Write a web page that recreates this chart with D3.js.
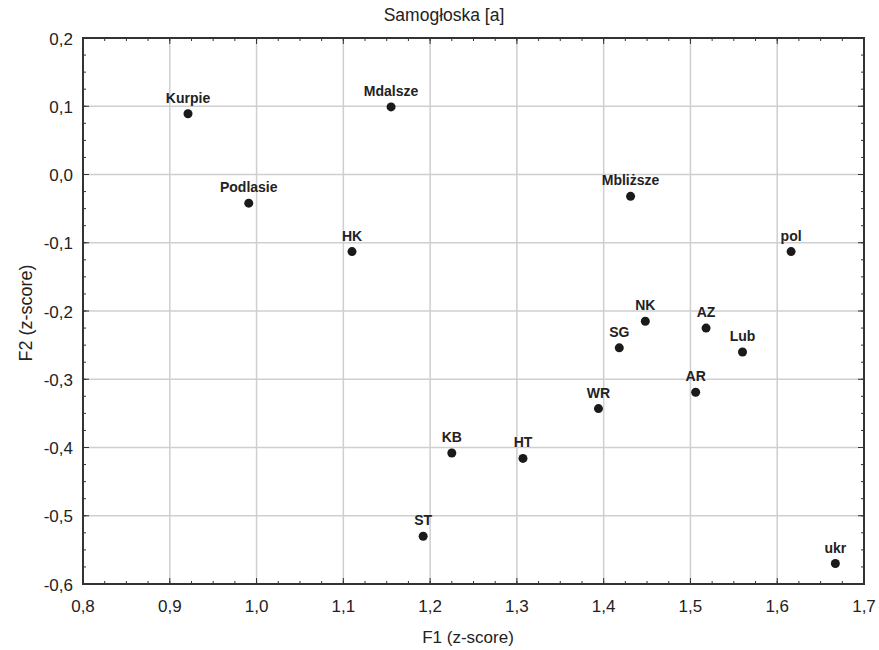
<!doctype html>
<html lang="pl">
<head>
    <meta charset="utf-8">
    <script src="https://d3js.org/d3.v7.min.js"></script>
    <style>
        html, body {
            margin: 0;
            padding: 0;
            background: #fff;
        }

        svg text {
            font-family: "Liberation Sans", Arial, sans-serif;
            fill: #222;
        }
    </style>
</head>
<body>
<svg id="svg" width="879" height="650"></svg>

<script>
    // values
    var labels = ["Kurpie", "Mdalsze", "Podlasie", "HK", "Mbliższe", "pol", "NK", "AZ",
        "SG", "Lub", "AR", "WR", "KB", "HT", "ST", "ukr"];
    var f1 = [0.921, 1.155, 0.991, 1.110, 1.431, 1.616, 1.448, 1.518,
        1.418, 1.560, 1.506, 1.394, 1.225, 1.307, 1.192, 1.667];
    var f2 = [0.089, 0.099, -0.042, -0.113, -0.032, -0.113, -0.215, -0.225,
        -0.254, -0.260, -0.319, -0.343, -0.408, -0.416, -0.530, -0.570];
    var xTicks = [0.8, 0.9, 1.0, 1.1, 1.2, 1.3, 1.4, 1.5, 1.6, 1.7];
    var yTicks = [0.2, 0.1, 0.0, -0.1, -0.2, -0.3, -0.4, -0.5, -0.6];

    var svg = d3.select("#svg");

    // plot box (window.top is taken, hence the prefix)
    var plotL = 83, plotR = 864, plotT = 38, plotB = 584;

    var x = d3.scaleLinear().domain([0.8, 1.7]).range([plotL, plotR]);
    var y = d3.scaleLinear().domain([-0.6, 0.2]).range([plotB, plotT]);

    var fmt = function (v) {
        return d3.format(".1f")(v).replace(".", ",").replace("−", "-");
    };

    // minor tick values, every 0.025
    var xMinor = d3.range(0, 37).map(function (i) { return 0.8 + i * 0.025; });
    var yMinor = d3.range(0, 33).map(function (i) { return -0.6 + i * 0.025; });

    // grid
    svg.append("g").selectAll("line").data(xTicks.slice(1, -1)).enter().append("line")
        .attr("x1", function (d) { return x(d); })
        .attr("x2", function (d) { return x(d); })
        .attr("y1", plotT).attr("y2", plotB)
        .attr("stroke", "#cfcfcf").attr("stroke-width", 1.5);
    svg.append("g").selectAll("line").data(yTicks.slice(1, -1)).enter().append("line")
        .attr("y1", function (d) { return y(d); })
        .attr("y2", function (d) { return y(d); })
        .attr("x1", plotL).attr("x2", plotR)
        .attr("stroke", "#cfcfcf").attr("stroke-width", 1.5);

    // minor ticks, pointing inward on all four sides
    var ticks = svg.append("g").attr("stroke", "#333").attr("stroke-width", 1);
    xMinor.forEach(function (d) {
        ticks.append("line").attr("x1", x(d)).attr("x2", x(d)).attr("y1", plotB).attr("y2", plotB - 3);
        ticks.append("line").attr("x1", x(d)).attr("x2", x(d)).attr("y1", plotT).attr("y2", plotT + 3);
    });
    yMinor.forEach(function (d) {
        ticks.append("line").attr("y1", y(d)).attr("y2", y(d)).attr("x1", plotL).attr("x2", plotL + 3);
        ticks.append("line").attr("y1", y(d)).attr("y2", y(d)).attr("x1", plotR).attr("x2", plotR - 3);
    });
    xTicks.forEach(function (d) {
        ticks.append("line").attr("x1", x(d)).attr("x2", x(d)).attr("y1", plotB).attr("y2", plotB - 6);
        ticks.append("line").attr("x1", x(d)).attr("x2", x(d)).attr("y1", plotT).attr("y2", plotT + 6);
    });
    yTicks.forEach(function (d) {
        ticks.append("line").attr("y1", y(d)).attr("y2", y(d)).attr("x1", plotL).attr("x2", plotL + 6);
        ticks.append("line").attr("y1", y(d)).attr("y2", y(d)).attr("x1", plotR).attr("x2", plotR - 6);
    });

    // frame
    svg.append("rect")
        .attr("x", plotL).attr("y", plotT)
        .attr("width", plotR - plotL).attr("height", plotB - plotT)
        .attr("fill", "none").attr("stroke", "#333").attr("stroke-width", 2);

    // tick labels
    svg.append("g").selectAll("text").data(xTicks).enter().append("text")
        .attr("x", function (d) { return x(d); })
        .attr("y", 612)
        .attr("text-anchor", "middle")
        .style("font-size", "17px")
        .text(fmt);
    svg.append("g").selectAll("text").data(yTicks).enter().append("text")
        .attr("x", 73)
        .attr("y", function (d) { return y(d) + 6.5; })
        .attr("text-anchor", "end")
        .style("font-size", "17px")
        .text(fmt);

    // titles
    svg.append("text")
        .attr("x", 444).attr("y", 21)
        .attr("text-anchor", "middle")
        .style("font-size", "17.5px")
        .text("Samogłoska [a]");
    svg.append("text")
        .attr("x", 468).attr("y", 643)
        .attr("text-anchor", "middle")
        .style("font-size", "17px")
        .text("F1 (z-score)");
    svg.append("text")
        .attr("transform", "translate(32,313) rotate(-90)")
        .attr("text-anchor", "middle")
        .style("font-size", "18px")
        .text("F2 (z-score)");

    // points and their labels
    var pts = svg.append("g").selectAll("g").data(labels).enter().append("g");
    pts.append("circle")
        .attr("cx", function (d, i) { return x(f1[i]); })
        .attr("cy", function (d, i) { return y(f2[i]); })
        .attr("r", 4.5)
        .attr("fill", "#1a1a1a");
    pts.append("text")
        .attr("x", function (d, i) { return x(f1[i]); })
        .attr("y", function (d, i) { return y(f2[i]) - 11; })
        .attr("text-anchor", "middle")
        .style("font-size", "14px")
        .style("font-weight", "bold")
        .text(function (d) { return d; });
</script>
</body>
</html>
